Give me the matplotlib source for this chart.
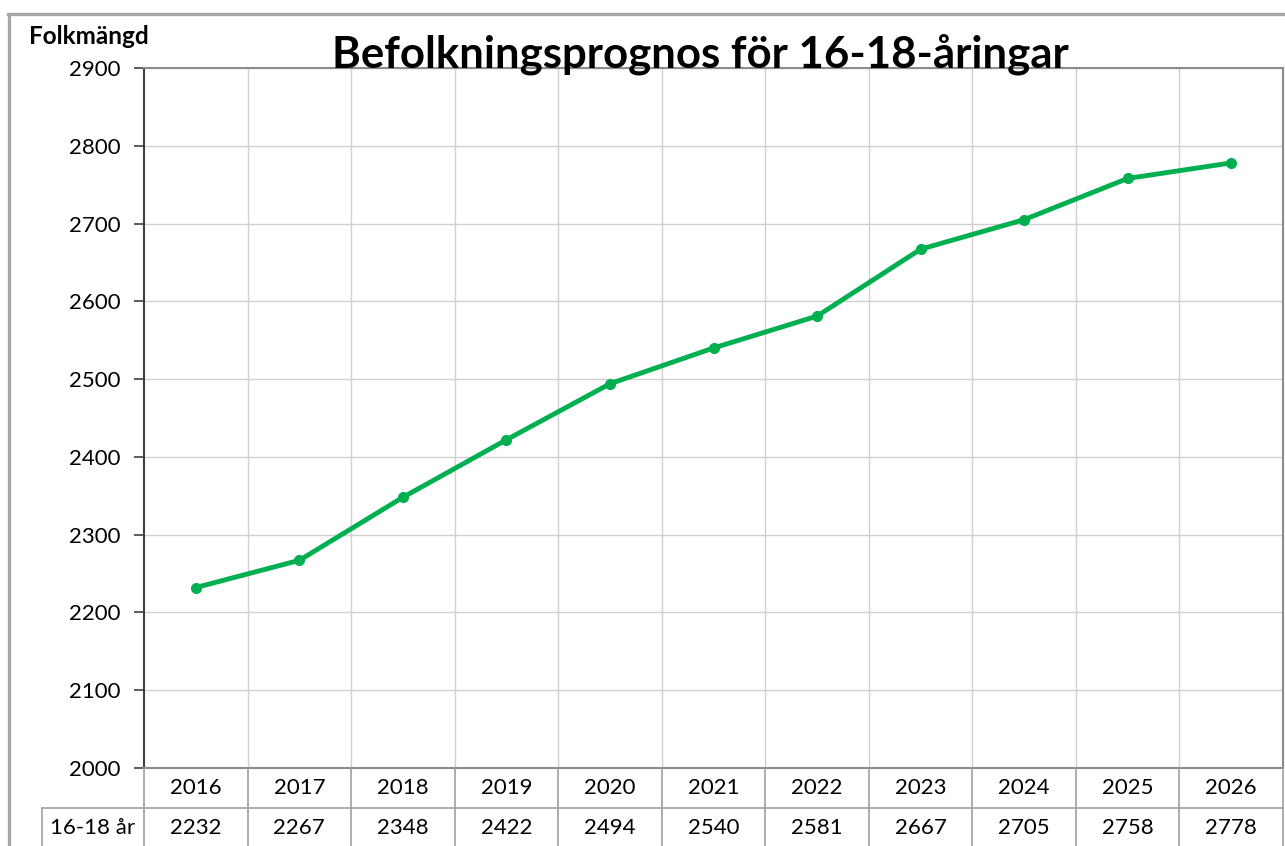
import numpy as np
import matplotlib.pyplot as plt
from matplotlib.lines import Line2D
from matplotlib.transforms import blended_transform_factory

# =========================
# Data
# =========================
years = ["2016", "2017", "2018", "2019", "2020", "2021",
         "2022", "2023", "2024", "2025", "2026"]
population = [2232, 2267, 2348, 2422, 2494, 2540, 2581, 2667, 2705, 2758, 2778]
series_label = "16-18 år"
title = "Befolkningsprognos för 16-18-åringar"
y_label = "Folkmängd"
y_ticks = [2000, 2100, 2200, 2300, 2400, 2500, 2600, 2700, 2800, 2900]

plt.rcParams["font.family"] = ["Lato", "DejaVu Sans"]

W, H = 1285, 846
fig = plt.figure(figsize=(W / 100, H / 100), dpi=100)

# plot area in pixels
left_px, right_px, top_px, bottom_px = 144, 1283, 68, 768
ax = fig.add_axes([left_px / W, 1 - bottom_px / H,
                   (right_px - left_px) / W, (bottom_px - top_px) / H])

x = np.arange(len(years))
ax.plot(x, population, color="#00b050", lw=3.5, marker="o", ms=7,
        solid_capstyle="round", zorder=5)

ax.set_xlim(-0.5, len(years) - 0.5)
ax.set_ylim(y_ticks[0], y_ticks[-1])
ax.set_yticks(y_ticks)
ax.set_xticks(x + 0.5, minor=True)
ax.set_xticks([])
ax.tick_params(axis="y", direction="out", length=7, width=1.2, color="#404040",
               labelsize=16, pad=10)
ax.grid(axis="y", color="#d0d0d0", lw=1)
ax.grid(axis="x", which="minor", color="#d0d0d0", lw=1)
ax.tick_params(axis="x", which="minor", length=0)
ax.set_axisbelow(True)

for side in ["top", "right", "bottom"]:
    ax.spines[side].set_color("#8c8c8c")
    ax.spines[side].set_linewidth(1.5)
ax.spines["left"].set_color("#404040")
ax.spines["left"].set_linewidth(1.5)

# title and axis label
fig.text(700 / W, 1 - 54 / H, title, ha="center", va="center",
         fontsize=31.5, fontweight="bold")
fig.text(29 / W, 1 - 37 / H, y_label, ha="left", va="center",
         fontsize=17.5, fontweight="bold")

# =========================
# Data table below the axis
# =========================
trans = blended_transform_factory(ax.transData, fig.transFigure)
grid_col = "#a0a0a0"
row1_y = 1 - 788 / H
row2_y = 1 - 828 / H
sep_y = 1 - 808 / H
for i, (yr, val) in enumerate(zip(years, population)):
    ax.text(i, row1_y, yr, transform=trans, ha="center", va="center",
            fontsize=16, clip_on=False)
    ax.text(i, row2_y, str(val), transform=trans, ha="center", va="center",
            fontsize=16, clip_on=False)
for b in np.arange(len(years) + 1) - 0.5:
    fig.add_artist(Line2D([b, b], [0, 1 - bottom_px / H], transform=trans,
                          color=grid_col, lw=1.2))
fig.add_artist(Line2D([42 / W, right_px / W], [sep_y, sep_y],
                      color=grid_col, lw=1.2))
fig.add_artist(Line2D([42 / W, 42 / W], [0, sep_y], color=grid_col, lw=1.2))
fig.text(93 / W, row2_y, series_label, ha="center", va="center", fontsize=16)

# outer chart border
border_col = "#a6a6a6"
fig.add_artist(Line2D([8 / W, 1], [1 - 14 / H, 1 - 14 / H], color=border_col, lw=2.4))
fig.add_artist(Line2D([9 / W, 9 / W], [0, 1 - 14 / H], color=border_col, lw=2.4))

fig.savefig("out.png", dpi=100)
